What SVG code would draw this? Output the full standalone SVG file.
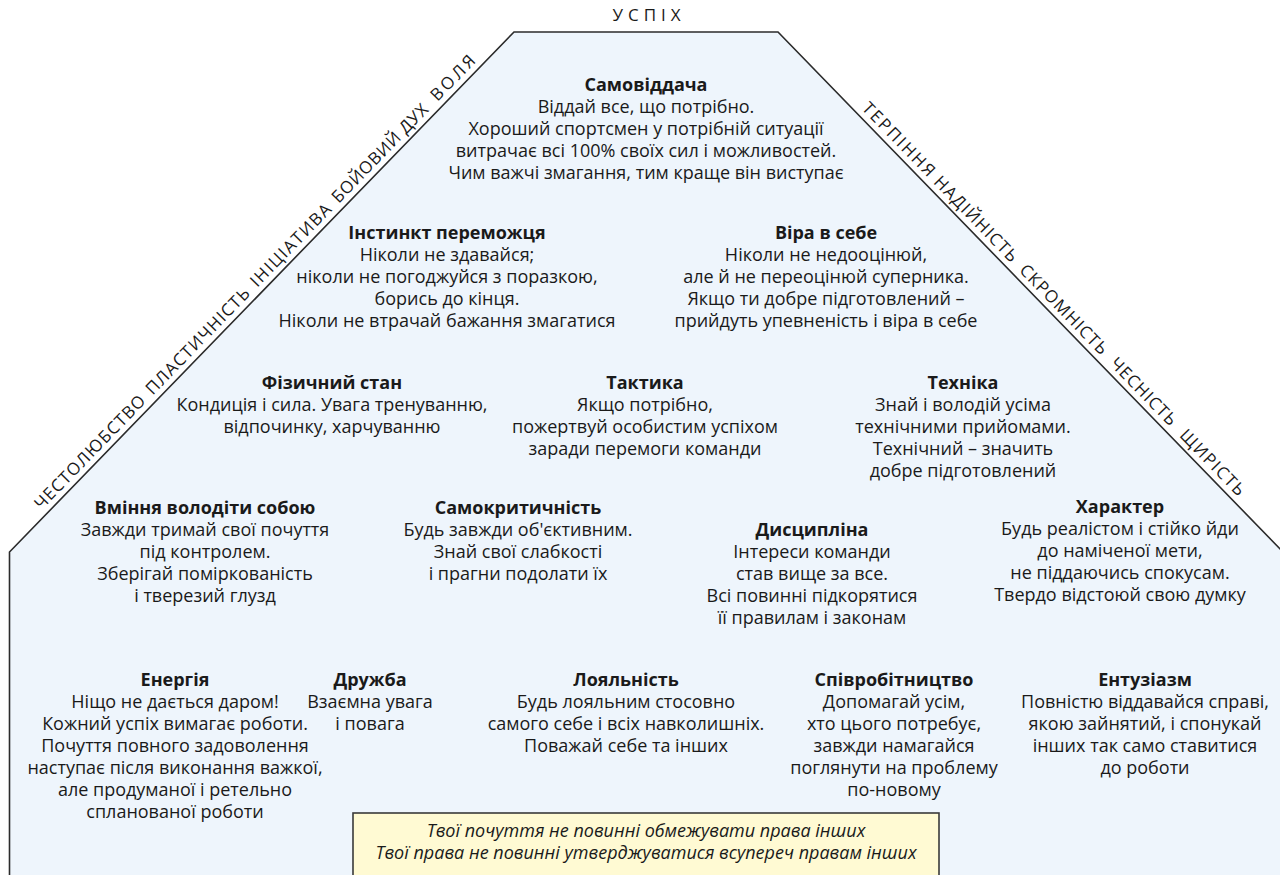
<svg xmlns="http://www.w3.org/2000/svg" width="1280" height="875" viewBox="0 0 1280 875">
  <style>
    .t { font-family: "Open Sans", "Liberation Sans", sans-serif; font-size: 18px; fill: #1a1a1a; text-anchor: middle; }
    .b { font-weight: bold; }
    .i { font-style: italic; }
    .edge { font-family: "Open Sans", "Liberation Sans", sans-serif; font-size: 17px; fill: #1a1a1a; }
    .frame { fill: #eef5fc; stroke: #2b2b2b; stroke-width: 1.6; stroke-linejoin: miter; }
    .note { fill: #fffad3; stroke: #3a3a3a; stroke-width: 1.6; }
  </style>

  <!-- outer house-shaped frame -->
  <g id="frame">
    <polygon class="frame" points="514,32 778,32 1283,552 1283,880 9.5,880 9.5,552"/>
  </g>

  <!-- roof title -->
  <g id="title">
    <text class="edge" x="649" y="21" font-size="16" text-anchor="middle" letter-spacing="5">УСПІХ</text>
  </g>

  <!-- qualities along the left roof slope (local x runs up the slope) -->
  <g id="left-slope" transform="translate(9.5,552) rotate(-45.87)">
    <text class="edge" x="52" y="-6" textLength="151" lengthAdjust="spacing">ЧЕСТОЛЮБСТВО</text>
    <text class="edge" x="212" y="-6" textLength="141" lengthAdjust="spacing">ПЛАСТИЧНІСТЬ</text>
    <text class="edge" x="362" y="-6" textLength="108" lengthAdjust="spacing">ІНІЦІАТИВА</text>
    <text class="edge" x="479" y="-6" textLength="130" lengthAdjust="spacing">БОЙОВИЙ ДУХ</text>
    <text class="edge" x="621" y="-6" textLength="56" lengthAdjust="spacing">ВОЛЯ</text>
  </g>

  <!-- qualities along the right roof slope (local x runs down the slope) -->
  <g id="right-slope" transform="translate(778,32) rotate(45.84)">
    <text class="edge" x="113" y="-6" textLength="96" lengthAdjust="spacing">ТЕРПІННЯ</text>
    <text class="edge" x="216" y="-6" textLength="112" lengthAdjust="spacing">НАДІЙНІСТЬ</text>
    <text class="edge" x="339" y="-6" textLength="118" lengthAdjust="spacing">СКРОМНІСТЬ</text>
    <text class="edge" x="469" y="-6" textLength="87" lengthAdjust="spacing">ЧЕСНІСТЬ</text>
    <text class="edge" x="569" y="-6" textLength="85" lengthAdjust="spacing">ЩИРІСТЬ</text>
  </g>

  <g id="samovíddacha">
    <text class="t" x="646" y="91"><tspan class="b">Самовіддача</tspan><tspan x="646" dy="22">Віддай все, що потрібно.</tspan><tspan x="646" dy="22">Хороший спортсмен у потрібній ситуації</tspan><tspan x="646" dy="22">витрачає всі 100% своїх сил і можливостей.</tspan><tspan x="646" dy="22">Чим важчі змагання, тим краще він виступає</tspan></text>
  </g>

  <g id="instynkt">
    <text class="t" x="447" y="239"><tspan class="b">Інстинкт переможця</tspan><tspan x="447" dy="22">Ніколи не здавайся;</tspan><tspan x="447" dy="22">ніколи не погоджуйся з поразкою,</tspan><tspan x="447" dy="22">борись до кінця.</tspan><tspan x="447" dy="22">Ніколи не втрачай бажання змагатися</tspan></text>
  </g>

  <g id="vira">
    <text class="t" x="826" y="239"><tspan class="b">Віра в себе</tspan><tspan x="826" dy="22">Ніколи не недооцінюй,</tspan><tspan x="826" dy="22">але й не переоцінюй суперника.</tspan><tspan x="826" dy="22">Якщо ти добре підготовлений –</tspan><tspan x="826" dy="22">прийдуть упевненість і віра в себе</tspan></text>
  </g>

  <g id="fizychnyi-stan">
    <text class="t" x="332" y="389"><tspan class="b">Фізичний стан</tspan><tspan x="332" dy="22">Кондиція і сила. Увага тренуванню,</tspan><tspan x="332" dy="22">відпочинку, харчуванню</tspan></text>
  </g>

  <g id="taktyka">
    <text class="t" x="645" y="389"><tspan class="b">Тактика</tspan><tspan x="645" dy="22">Якщо потрібно,</tspan><tspan x="645" dy="22">пожертвуй особистим успіхом</tspan><tspan x="645" dy="22">заради перемоги команди</tspan></text>
  </g>

  <g id="tekhnika">
    <text class="t" x="963" y="389"><tspan class="b">Техніка</tspan><tspan x="963" dy="22">Знай і володій усіма</tspan><tspan x="963" dy="22">технічними прийомами.</tspan><tspan x="963" dy="22">Технічний – значить</tspan><tspan x="963" dy="22">добре підготовлений</tspan></text>
  </g>

  <g id="vminnia">
    <text class="t" x="205" y="514"><tspan class="b">Вміння володіти собою</tspan><tspan x="205" dy="22">Завжди тримай свої почуття</tspan><tspan x="205" dy="22">під контролем.</tspan><tspan x="205" dy="22">Зберігай поміркованість</tspan><tspan x="205" dy="22">і тверезий глузд</tspan></text>
  </g>

  <g id="samokrytychnist">
    <text class="t" x="518" y="514"><tspan class="b">Самокритичність</tspan><tspan x="518" dy="22">Будь завжди об'єктивним.</tspan><tspan x="518" dy="22">Знай свої слабкості</tspan><tspan x="518" dy="22">і прагни подолати їх</tspan></text>
  </g>

  <g id="dystsyplina">
    <text class="t" x="812" y="536"><tspan class="b">Дисципліна</tspan><tspan x="812" dy="22">Інтереси команди</tspan><tspan x="812" dy="22">став вище за все.</tspan><tspan x="812" dy="22">Всі повинні підкорятися</tspan><tspan x="812" dy="22">її правилам і законам</tspan></text>
  </g>

  <g id="kharakter">
    <text class="t" x="1120" y="513"><tspan class="b">Характер</tspan><tspan x="1120" dy="22">Будь реалістом і стійко йди</tspan><tspan x="1120" dy="22">до наміченої мети,</tspan><tspan x="1120" dy="22">не піддаючись спокусам.</tspan><tspan x="1120" dy="22">Твердо відстоюй свою думку</tspan></text>
  </g>

  <g id="enerhiia">
    <text class="t" x="175" y="686"><tspan class="b">Енергія</tspan><tspan x="175" dy="22">Ніщо не дається даром!</tspan><tspan x="175" dy="22">Кожний успіх вимагає роботи.</tspan><tspan x="175" dy="22">Почуття повного задоволення</tspan><tspan x="175" dy="22">наступає після виконання важкої,</tspan><tspan x="175" dy="22">але продуманої і ретельно</tspan><tspan x="175" dy="22">спланованої роботи</tspan></text>
  </g>

  <g id="druzhba">
    <text class="t" x="370" y="686"><tspan class="b">Дружба</tspan><tspan x="370" dy="22">Взаємна увага</tspan><tspan x="370" dy="22">і повага</tspan></text>
  </g>

  <g id="loialnist">
    <text class="t" x="626" y="686"><tspan class="b">Лояльність</tspan><tspan x="626" dy="22">Будь лояльним стосовно</tspan><tspan x="626" dy="22">самого себе і всіх навколишніх.</tspan><tspan x="626" dy="22">Поважай себе та інших</tspan></text>
  </g>

  <g id="spivrobitnytstvo">
    <text class="t" x="894" y="686"><tspan class="b">Співробітництво</tspan><tspan x="894" dy="22">Допомагай усім,</tspan><tspan x="894" dy="22">хто цього потребує,</tspan><tspan x="894" dy="22">завжди намагайся</tspan><tspan x="894" dy="22">поглянути на проблему</tspan><tspan x="894" dy="22">по-новому</tspan></text>
  </g>

  <g id="entuziazm">
    <text class="t" x="1145" y="686"><tspan class="b">Ентузіазм</tspan><tspan x="1145" dy="22">Повністю віддавайся справі,</tspan><tspan x="1145" dy="22">якою зайнятий, і спонукай</tspan><tspan x="1145" dy="22">інших так само ставитися</tspan><tspan x="1145" dy="22">до роботи</tspan></text>
  </g>

  <!-- foundation note -->
  <g id="foundation">
    <rect class="note" x="353" y="813" width="586" height="70"/>
    <text class="t i" x="646" y="837"><tspan>Твої почуття не повинні обмежувати права інших</tspan><tspan x="646" dy="22">Твої права не повинні утверджуватися всупереч правам інших</tspan></text>
  </g>

  <!-- no connectors in this figure -->
  <g id="connectors"/>
</svg>
